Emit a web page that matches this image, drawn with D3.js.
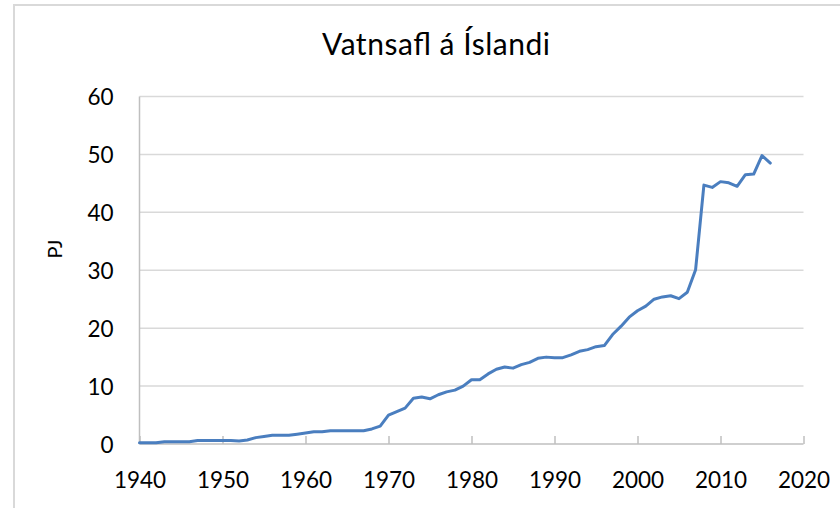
<!DOCTYPE html>
<html>
<head>
<meta charset="utf-8">
<script src="https://cdn.jsdelivr.net/npm/d3@7"></script>
<style>
  body { margin: 0; background: #fff; }
  text { font-family: Lato, "Open Sans", sans-serif; fill: #000; }
</style>
</head>
<body>
<script>
var years = [1940,1941,1942,1943,1944,1945,1946,1947,1948,1949,
  1950,1951,1952,1953,1954,1955,1956,1957,1958,1959,
  1960,1961,1962,1963,1964,1965,1966,1967,1968,1969,
  1970,1971,1972,1973,1974,1975,1976,1977,1978,1979,
  1980,1981,1982,1983,1984,1985,1986,1987,1988,1989,
  1990,1991,1992,1993,1994,1995,1996,1997,1998,1999,
  2000,2001,2002,2003,2004,2005,2006,2007,2008,2009,
  2010,2011,2012,2013,2014,2015,2016];
var pj = [0.2,0.2,0.2,0.4,0.4,0.4,0.4,0.6,0.6,0.6,
  0.6,0.6,0.5,0.7,1.1,1.3,1.5,1.5,1.5,1.7,
  1.9,2.1,2.1,2.3,2.3,2.3,2.3,2.3,2.6,3.1,
  5.0,5.6,6.2,7.9,8.1,7.8,8.5,9.0,9.3,10.0,
  11.1,11.1,12.1,12.9,13.3,13.1,13.7,14.1,14.8,15.0,
  14.9,14.9,15.4,16.0,16.3,16.8,17.0,18.9,20.3,21.9,
  23.0,23.8,25.0,25.4,25.6,25.1,26.2,30.1,44.7,44.3,
  45.3,45.1,44.5,46.5,46.6,49.8,48.5];
var xTicks = [1940,1950,1960,1970,1980,1990,2000,2010,2020];
var yTicks = [0,10,20,30,40,50,60];

var W = 840, H = 508;
var svg = d3.select("body").append("svg").attr("width", W).attr("height", H);

// chart border (only top and left visible)
svg.append("path").attr("d", "M14," + H + "V5H" + W)
  .attr("fill", "none").attr("stroke", "#d9d9d9").attr("stroke-width", 2);

var x = d3.scaleLinear().domain([1940, 2020]).range([139.5, 803.5]);
var y = d3.scaleLinear().domain([0, 60]).range([444, 96.5]);

// gridlines
svg.append("g").selectAll("line").data(yTicks.slice(1)).enter().append("line")
  .attr("x1", x(1940)).attr("x2", x(2020))
  .attr("y1", d => y(d)).attr("y2", d => y(d))
  .attr("stroke", "#d9d9d9").attr("stroke-width", 1.5);

// left axis line
svg.append("line").attr("x1", x(1940)).attr("x2", x(1940))
  .attr("y1", y(0)).attr("y2", y(60)).attr("stroke", "#bfbfbf").attr("stroke-width", 1.5);

// bottom axis with inside ticks
var xAxis = d3.axisBottom(x).tickValues(xTicks).tickSize(-8).tickFormat(d3.format("d"));
var gx = svg.append("g").attr("transform", "translate(0," + y(0) + ")").call(xAxis);
gx.select(".domain").attr("stroke", "#bfbfbf").attr("stroke-width", 1.5).attr("d", "M" + x(1940) + ",0H" + x(2020));
gx.selectAll(".tick line").attr("stroke", "#bfbfbf").attr("stroke-width", 1.5);
gx.selectAll(".tick text").attr("y", 44).attr("dy", null)
  .style("font-size", "22.5px").style("font-family", "Lato, sans-serif").attr("fill", "#111");

// y labels
var yAxis = d3.axisLeft(y).tickValues(yTicks).tickSize(0).tickPadding(26);
var gy = svg.append("g").attr("transform", "translate(" + x(1940) + ",0)").call(yAxis);
gy.select(".domain").remove();
gy.selectAll(".tick text").attr("dy", "0.36em")
  .style("font-size", "22.5px").style("font-family", "Lato, sans-serif").attr("fill", "#111");

// line
var line = d3.line().x((d, i) => x(years[i])).y(d => y(d));
svg.append("path").datum(pj).attr("d", line)
  .attr("fill", "none").attr("stroke", "#4a7ebf").attr("stroke-width", 3)
  .attr("stroke-linejoin", "round").attr("stroke-linecap", "round");

// title
svg.append("text").attr("x", 436).attr("y", 55).attr("text-anchor", "middle")
  .style("font-size", "30px").attr("textLength", 228).text("Vatnsafl á Íslandi");

// y title
svg.append("text").attr("transform", "translate(62,249) rotate(-90)")
  .attr("text-anchor", "middle").style("font-size", "20px").text("PJ");
</script>
</body>
</html>
